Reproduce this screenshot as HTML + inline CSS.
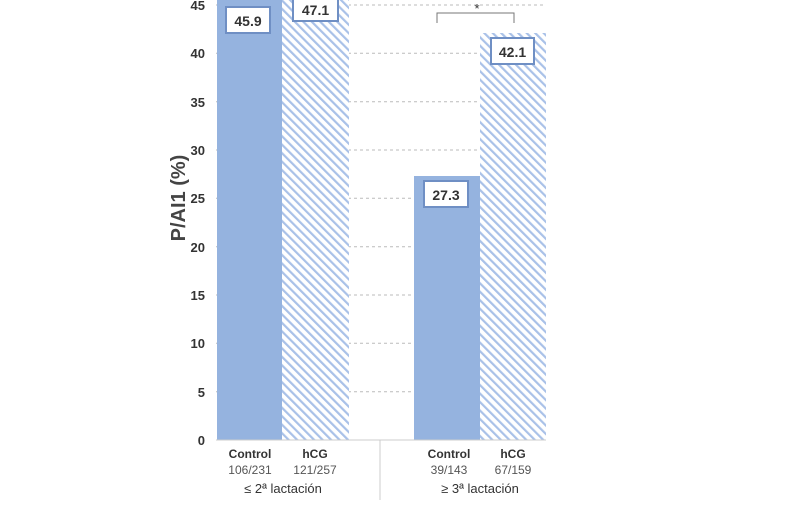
<!DOCTYPE html>
<html><head><style>body{margin:0;background:#fff}</style></head><body>
<svg width="800" height="500" viewBox="0 0 800 500" xmlns="http://www.w3.org/2000/svg" font-family="Liberation Sans, sans-serif">
<defs>
<pattern id="h" width="6" height="6" patternUnits="userSpaceOnUse" patternTransform="rotate(-45)">
<rect width="6" height="6" fill="#fff"/><rect width="2.2" height="6" fill="#a9c1e8"/>
</pattern>
</defs>
<g stroke="#bbb" stroke-dasharray="3,3" stroke-width="1">
<line x1="216" x2="546" y1="391.7" y2="391.7"/><line x1="216" x2="546" y1="343.3" y2="343.3"/>
<line x1="216" x2="546" y1="295" y2="295"/><line x1="216" x2="546" y1="246.7" y2="246.7"/>
<line x1="216" x2="546" y1="198.3" y2="198.3"/><line x1="216" x2="546" y1="150" y2="150"/>
<line x1="216" x2="546" y1="101.7" y2="101.7"/><line x1="216" x2="546" y1="53.3" y2="53.3"/>
<line x1="216" x2="546" y1="5" y2="5"/>
</g>
<rect x="217" y="0" width="65" height="440" fill="#95b3df"/>
<rect x="282" y="0" width="67" height="440" fill="url(#h)"/>
<rect x="414" y="176" width="66" height="264" fill="#95b3df"/>
<rect x="480" y="33" width="66" height="407" fill="url(#h)"/>
<line x1="216" x2="546" y1="440" y2="440" stroke="#ccc"/>
<line x1="380" x2="380" y1="440" y2="500" stroke="#ccc"/>
<g font-size="13" font-weight="bold" fill="#333" text-anchor="end">
<text x="205" y="445">0</text><text x="205" y="397">5</text><text x="205" y="348">10</text>
<text x="205" y="300">15</text><text x="205" y="252">20</text><text x="205" y="203">25</text>
<text x="205" y="155">30</text><text x="205" y="107">35</text><text x="205" y="58">40</text><text x="205" y="10">45</text>
</g>
<text transform="translate(185,198) rotate(-90)" font-size="20" fill="#444" text-anchor="middle" font-weight="bold">P/AI1 (%)</text>
<g stroke="#6f8fc4" stroke-width="2" fill="#fff">
<rect x="226" y="7" width="44" height="26"/><rect x="293" y="-4" width="45" height="25"/>
<rect x="424" y="181" width="44" height="26"/><rect x="491" y="38" width="43" height="26"/>
</g>
<g font-size="14" font-weight="bold" fill="#333" text-anchor="middle">
<text x="248" y="26">45.9</text><text x="315.5" y="15">47.1</text>
<text x="446" y="200">27.3</text><text x="512.5" y="57">42.1</text>
</g>
<path d="M437 23 V13 H514 V23" fill="none" stroke="#777" stroke-width="1"/>
<text x="477" y="13" font-size="13" text-anchor="middle" fill="#333">*</text>
<g text-anchor="middle" fill="#333">
<text x="250" y="458" font-size="12" font-weight="bold">Control</text>
<text x="315" y="458" font-size="12" font-weight="bold">hCG</text>
<text x="250" y="474" font-size="12" fill="#555">106/231</text>
<text x="315" y="474" font-size="12" fill="#555">121/257</text>
<text x="283" y="493" font-size="13">≤ 2ª lactación</text>
<text x="449" y="458" font-size="12" font-weight="bold">Control</text>
<text x="513" y="458" font-size="12" font-weight="bold">hCG</text>
<text x="449" y="474" font-size="12" fill="#555">39/143</text>
<text x="513" y="474" font-size="12" fill="#555">67/159</text>
<text x="480" y="493" font-size="13">≥ 3ª lactación</text>
</g>
</svg>
</body></html>
